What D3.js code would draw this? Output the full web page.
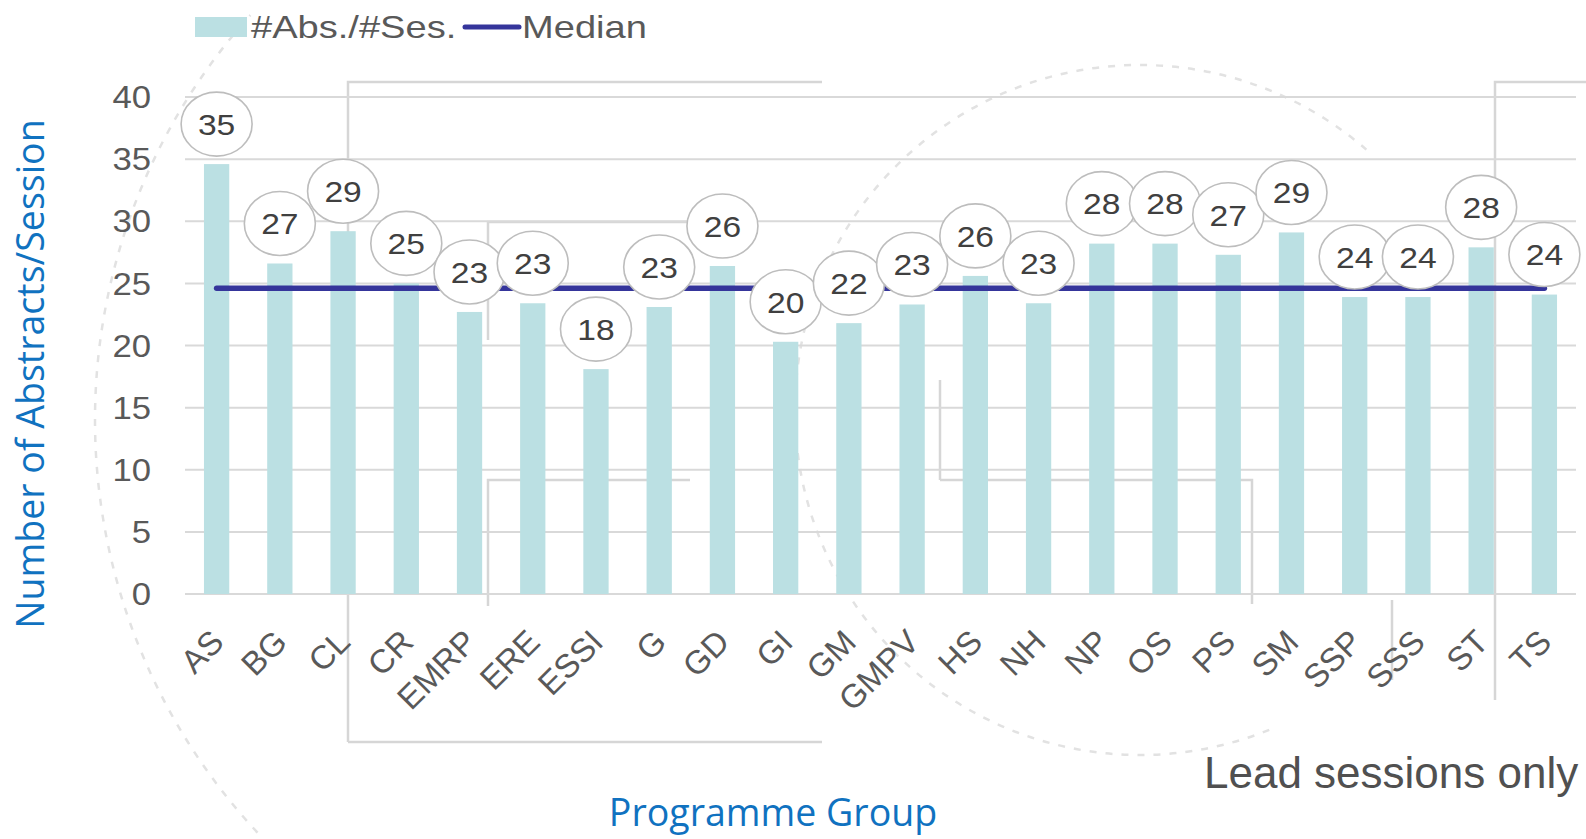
<!DOCTYPE html>
<html>
<head>
<meta charset="utf-8">
<script src="https://cdn.jsdelivr.net/npm/d3@7"></script>
<style>
  html, body { margin: 0; padding: 0; background: #ffffff; }
  svg { display: block; }
</style>
</head>
<body>
<svg id="chart" width="1586" height="839"></svg>
<script>
// ---- data ----
const categories = ["AS","BG","CL","CR","EMRP","ERE","ESSI","G","GD","GI","GM","GMPV","HS","NH","NP","OS","PS","SM","SSP","SSS","ST","TS"];
const ratioValues = [34.6, 26.6, 29.2, 25.0, 22.7, 23.4, 18.1, 23.1, 26.4, 20.3, 21.8, 23.3, 25.6, 23.4, 28.2, 28.2, 27.3, 29.1, 23.9, 23.9, 27.9, 24.1];
const medianValue = 24.6;
const yTickValues = [0, 5, 10, 15, 20, 25, 30, 35, 40];
const seriesNames = ["#Abs./#Ses.", "Median"];
const yAxisTitle = "Number of Abstracts/Session";
const xAxisTitle = "Programme Group";
const noteText = "Lead sessions only";

// ---- styles ----
const barColor = "#bbe0e3";
const medianColor = "#35359b";
const gridColor = "#d9d9d9";
const textColor = "#595959";
const titleColor = "#1072c0";
const chartFont = "'Liberation Sans', Arial, Helvetica, sans-serif";
const titleFont = "'Open Sans', 'Noto Sans', sans-serif";
const stretch = 1.12;

const svg = d3.select("#chart");

// ---- faint background watermark (decoration) ----
const wm = svg.append("g").attr("fill", "none");
const wmSolid = [
  [[348, 742], [348, 82], [822, 82]],
  [[348, 742], [822, 742]],
  [[488, 340], [488, 222], [690, 222]],
  [[488, 606], [488, 480], [690, 480]],
  [[940, 480], [1252, 480], [1252, 604]],
  [[940, 380], [940, 480]],
  [[1495, 700], [1495, 82], [1586, 82]],
  [[1392, 600], [1392, 680]]
];
wm.selectAll("path.wms").data(wmSolid).join("path")
  .attr("class", "wms")
  .attr("d", d3.line())
  .attr("stroke", "#d6d6d6")
  .attr("stroke-width", 2.5);
const wmArcs = [
  { cx: 700, cy: 420, r: 605, a0: 137, a1: 222 },
  { cx: 1140, cy: 410, r: 345, a0: 68, a1: 311 }
];
wm.selectAll("path.wma").data(wmArcs).join("path")
  .attr("class", "wma")
  .attr("d", d => {
    const p = d3.path();
    p.arc(d.cx, d.cy, d.r, d.a0 * Math.PI / 180, d.a1 * Math.PI / 180, false);
    return p.toString();
  })
  .attr("stroke", "#e2e2e2")
  .attr("stroke-width", 2.5)
  .attr("stroke-dasharray", "7 9");

// ---- scales ----
const x = d3.scaleBand()
  .domain(categories)
  .range([185, 1576])
  .paddingInner(0.6)
  .paddingOuter(0.3);
const y = d3.scaleLinear().domain([0, 40]).range([594, 97]);
const xc = d => x(d) + x.bandwidth() / 2;

// ---- gridlines ----
svg.append("g").selectAll("line").data(yTickValues).join("line")
  .attr("x1", 185).attr("x2", 1576)
  .attr("y1", d => y(d)).attr("y2", d => y(d))
  .attr("stroke", gridColor).attr("stroke-width", 2);

// ---- y tick labels ----
svg.append("g").selectAll("text").data(yTickValues).join("text")
  .attr("transform", d => `translate(151,${y(d)}) scale(${stretch},1)`)
  .attr("text-anchor", "end")
  .attr("dy", "0.36em")
  .attr("font-family", chartFont)
  .attr("font-size", 31)
  .attr("fill", textColor)
  .text(d => d);

// ---- bars ----
const data = categories.map((c, i) => ({ cat: c, value: ratioValues[i] }));
svg.append("g").selectAll("rect").data(data).join("rect")
  .attr("x", d => x(d.cat))
  .attr("width", x.bandwidth())
  .attr("y", d => y(d.value))
  .attr("height", d => y(0) - y(d.value))
  .attr("fill", barColor);

// ---- median line ----
svg.append("path")
  .datum(categories)
  .attr("d", d3.line().x(d => xc(d)).y(() => y(medianValue)))
  .attr("fill", "none")
  .attr("stroke", medianColor)
  .attr("stroke-width", 5.5)
  .attr("stroke-linecap", "round");

// ---- data labels (callout ellipses) ----
const fmt = d3.format(".0f");
const lab = svg.append("g").selectAll("g").data(data).join("g")
  .attr("transform", d => `translate(${xc(d.cat)},${y(d.value) - 40})`);
lab.append("ellipse")
  .attr("rx", 35.5).attr("ry", 32)
  .attr("fill", "#ffffff")
  .attr("stroke", "#bdbdbd")
  .attr("stroke-width", 1.6);
lab.append("text")
  .attr("transform", `scale(${stretch},1)`)
  .attr("text-anchor", "middle")
  .attr("dy", "0.36em")
  .attr("font-family", chartFont)
  .attr("font-size", 30)
  .attr("fill", "#404040")
  .text(d => fmt(d.value));

// ---- x tick labels ----
svg.append("g").selectAll("text").data(categories).join("text")
  .attr("transform", d => `translate(${xc(d) + 9},644) rotate(-45)`)
  .attr("text-anchor", "end")
  .attr("font-family", chartFont)
  .attr("font-size", 33)
  .attr("fill", textColor)
  .text(d => d);

// ---- legend ----
const leg = svg.append("g");
leg.append("rect").attr("x", 195).attr("y", 17).attr("width", 52).attr("height", 20).attr("fill", barColor);
leg.append("text")
  .attr("transform", `translate(251,38) scale(1.19,1)`)
  .attr("font-family", chartFont).attr("font-size", 32).attr("fill", textColor)
  .text(seriesNames[0]);
leg.append("line")
  .attr("x1", 465).attr("x2", 519).attr("y1", 27).attr("y2", 27)
  .attr("stroke", medianColor).attr("stroke-width", 5).attr("stroke-linecap", "round");
leg.append("text")
  .attr("transform", `translate(522,38) scale(1.19,1)`)
  .attr("font-family", chartFont).attr("font-size", 32).attr("fill", textColor)
  .text(seriesNames[1]);

// ---- axis titles ----
svg.append("text")
  .attr("transform", "translate(44,374) rotate(-90)")
  .attr("text-anchor", "middle")
  .attr("font-family", titleFont)
  .attr("font-size", 37.5)
  .attr("fill", titleColor)
  .text(yAxisTitle);
svg.append("text")
  .attr("x", 773).attr("y", 826)
  .attr("text-anchor", "middle")
  .attr("font-family", titleFont)
  .attr("font-size", 37.5)
  .attr("fill", titleColor)
  .text(xAxisTitle);

// ---- note ----
svg.append("text")
  .attr("x", 1204).attr("y", 788)
  .attr("font-family", chartFont)
  .attr("font-size", 44)
  .attr("fill", "#505050")
  .text(noteText);
</script>
</body>
</html>
